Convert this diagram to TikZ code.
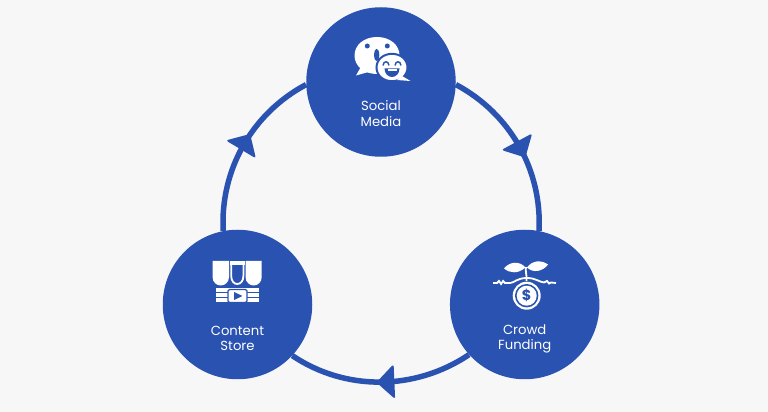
\documentclass[tikz,border=0pt]{standalone}
\usepackage{fontspec}
\setmainfont{Poppins}
\usetikzlibrary{decorations.markings}
\definecolor{ringblue}{HTML}{2A52B1}
\definecolor{pagegrey}{HTML}{F7F7F7}
\tikzset{
  hub/.style={circle,fill=ringblue,draw=none,minimum size=149.5pt,inner sep=0pt},
  hubtext/.style={white,align=center,font=\fontsize{13.2}{15.5}\selectfont},
  ring/.style={ringblue,line width=5.5pt,looseness=0.93,postaction={decorate}},
  headat/.style={decoration={markings,mark=at position #1 with {
    \fill[ringblue,rounded corners=2.5pt] (-8,-17.5)--(10,0)--(-8,17.5)--cycle;}}}
}
\begin{document}
\begin{tikzpicture}[x=1pt,y=1pt]
\fill[pagegrey] (0,0) rectangle (768,412);
\useasboundingbox (0,0) rectangle (768,412);

\node[hub] (social) at (381,330) {};
\node[hub] (store) at (237.5,107.5) {};
\node[hub] (funding) at (524.7,107.5) {};

\draw[ring,headat=0.52] (social.-2) to[out=-28,in=87] (funding.79);
\draw[ring,headat=0.47] (funding.222) to[out=214,in=-34] (store.-43);
\draw[ring,headat=0.52] (store.101) to[out=93,in=208] (social.182);

\node[hubtext] (sociallabel) at (381,298.5) {Social\\Media};
\node[hubtext] (storelabel) at (237.5,73.5) {Content\\Store};
\node[hubtext] (fundinglabel) at (524.7,73) {Crowd\\Funding};

% icons, y counted downward from the top edge
\begin{scope}[shift={(0,412)},y=-1pt]
% two chat bubbles
\fill[white] (354.5,55.5) .. controls (354.5,45) and (364,37) .. (377,37) .. controls (390,37) and (399.5,45) .. (399.5,55.5) .. controls (399.5,66) and (390,74) .. (377,74) .. controls (364,74) and (354.5,66) .. (354.5,55.5) -- cycle;
\fill[white] (362,65)--(356,75.5)--(372,71)--cycle;
\fill[ringblue] (367.3,46) circle (2.5);
\fill[ringblue] (387.3,46) circle (2.5);
\fill[ringblue] (376.7,55) ellipse (2.6 and 6.2);
\fill[white,draw=ringblue,line width=2pt] (376.5,67.5) .. controls (376.5,59.5) and (383.5,53.8) .. (392,53.8) .. controls (400.5,53.8) and (407.5,59.5) .. (407.5,67.5) .. controls (407.5,75.5) and (400.5,81.2) .. (392,81.2) .. controls (383.5,81.2) and (376.5,75.5) .. (376.5,67.5) -- cycle;
\fill[white] (402,76)--(410.5,81)--(397,80)--cycle;
\draw[ringblue,line width=1.4pt] (383,65.5) .. controls (383.5,60.5) and (388.5,60.5) .. (389,65.5);
\draw[ringblue,line width=1.4pt] (395,65.5) .. controls (395.5,60.5) and (400.5,60.5) .. (401,65.5);
\fill[ringblue] (384.5,68.5) -- (399.5,68.5) .. controls (399.5,73.5) and (396,77) .. (392,77) .. controls (388,77) and (384.5,73.5) .. (384.5,68.5) -- cycle;
\fill[white] (387.5,69.4) rectangle (396.5,70.8);

% shop with awning
\fill[white] (212.5,261) -- (229,261) -- (229,277) .. controls (229,282) and (225,285.5) .. (220.7,285.5) .. controls (216.5,285.5) and (212.5,282) .. (212.5,277) -- cycle;
\fill[white] (245.5,261) -- (261.7,261) -- (261.7,277) .. controls (261.7,282) and (258,285.5) .. (253.6,285.5) .. controls (249.5,285.5) and (245.5,282) .. (245.5,277) -- cycle;
\fill[white] (229.5,261) rectangle (245,265);
\draw[white,line width=1.8pt] (231.2,262) -- (231.2,276) .. controls (231.2,281) and (234,284) .. (237.2,284) .. controls (240.5,284) and (243.4,281) .. (243.4,276) -- (243.4,262);
\fill[white] (216,288) rectangle (258.5,292);
\fill[white] (216,293) rectangle (258.5,297);
\fill[white] (216,298) rectangle (258.5,302);
\fill[white,draw=ringblue,line width=1.4pt,rounded corners=1.5pt] (228,289.5) rectangle (247,302.5);
\fill[ringblue] (234,292)--(242.5,296)--(234,300)--cycle;

% sprout and coin
\fill[white] (504,268.5) .. controls (510,261) and (520,261) .. (525.5,267.5) .. controls (518,274) and (510,273.5) .. (504,268.5) -- cycle;
\fill[white] (527,267.5) .. controls (532,260.5) and (541,259.5) .. (548,264.5) .. controls (543,271.5) and (533,273.5) .. (527,267.5) -- cycle;
\draw[white,line width=1.8pt] (526,267) .. controls (525,271) and (527,274) .. (526.5,281);
\draw[white,line width=1.8pt] (493,283) -- (497,283) -- (499,281) -- (501,284) -- (503,281) -- (505,283) -- (510,283) .. controls (514,283) and (517,278) .. (526.7,278) .. controls (536,278) and (539,282) .. (544,282.5) -- (547,281) -- (549,283.5) -- (551,282.5) -- (556,283);
\fill[white] (526.7,295.7) circle (14);
\fill[ringblue] (526.7,295.7) circle (11.7);
\fill[white] (526.7,295.7) circle (10);
\node[ringblue,font=\fontsize{14.5}{15}\selectfont\bfseries] (coinsign) at (526.7,295.5) {\$};
\end{scope}
\end{tikzpicture}
\end{document}
